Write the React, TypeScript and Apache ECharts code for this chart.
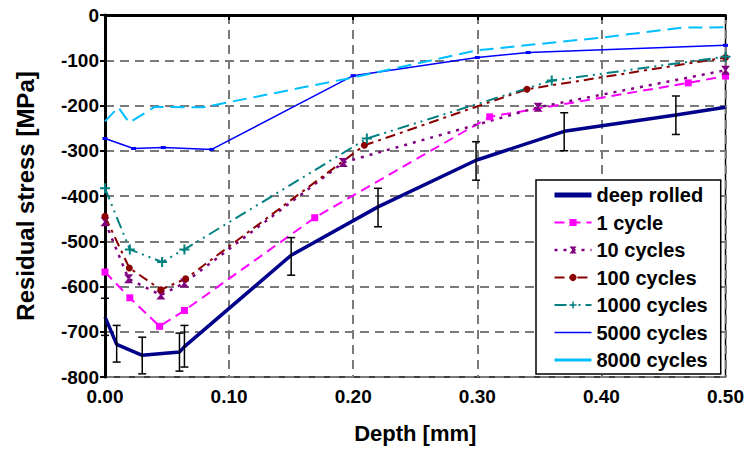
import React, { useEffect, useRef } from "react";
import * as echarts from "echarts";

const xTicks = [0, 0.1, 0.2, 0.3, 0.4, 0.5];
const seriesNames = ["deep rolled", "1 cycle", "10 cycles", "100 cycles", "1000 cycles", "5000 cycles", "8000 cycles"];

// deep rolled: [depth, stress]
const deepRolled: number[][] = [
  [0, -667], [0.0094, -728], [0.030, -752], [0.060, -745], [0.064, -733],
  [0.150, -531], [0.220, -424], [0.299, -321], [0.370, -257], [0.460, -221], [0.500, -204],
];
// error bars for deep rolled: [depth, low, high]
const deepRolledErr: number[][] = [
  [0, -708, -626], [0.0094, -767, -686], [0.030, -793, -712], [0.060, -787, -703], [0.064, -778, -686],
  [0.150, -575, -492], [0.220, -468, -383], [0.299, -365, -280], [0.370, -300, -216], [0.460, -264, -179],
];
const cycle1: number[][] = [
  [0, -568], [0.020, -625], [0.044, -688], [0.064, -653], [0.169, -448], [0.310, -225], [0.470, -150], [0.500, -135],
];
const cycle10: number[][] = [
  [0, -457], [0.019, -583], [0.045, -619], [0.064, -592], [0.192, -326], [0.349, -204], [0.500, -122],
];
const cycle100: number[][] = [
  [0, -445], [0.0196, -559], [0.045, -607], [0.065, -583], [0.209, -288], [0.340, -164], [0.500, -94],
];
const cycle1000: number[][] = [
  [0, -383], [0.020, -518], [0.046, -546], [0.064, -518], [0.211, -273], [0.360, -145], [0.500, -92],
];
const cycle5000: number[][] = [
  [0, -273], [0.023, -295], [0.047, -293], [0.086, -297], [0.200, -134], [0.300, -94], [0.341, -83], [0.500, -67],
];
const cycle8000: number[][] = [
  [0, -235], [0.0107, -204], [0.0196, -238], [0.040, -203], [0.079, -204], [0.200, -138], [0.300, -78],
  [0.400, -50], [0.465, -28], [0.500, -27],
];

const FONT = "'Liberation Sans', Arial, sans-serif";
const hourglass = "path://M0,0 L10,0 L6,5 L10,10 L0,10 L4,5 Z";
const plus = "path://M4,0 L6,0 L6,4 L10,4 L10,6 L6,6 L6,10 L4,10 L4,6 L0,6 L0,4 L4,4 Z";

export default function App() {
  const ref = useRef<HTMLDivElement>(null);
  useEffect(() => {
    document.body.style.margin = "0";
    const chart = echarts.init(ref.current!, null, { renderer: "svg" });
    const legendData = seriesNames.map((n) => {
      if (n === "deep rolled") return { name: n, itemStyle: { opacity: 0 }, lineStyle: { width: 5, type: "solid" } };
      if (n === "8000 cycles") return { name: n, itemStyle: { opacity: 0 }, lineStyle: { width: 3, type: "solid" } };
      if (n === "5000 cycles") return { name: n, itemStyle: { opacity: 0 }, lineStyle: { width: 1.5 } };
      return { name: n };
    });
    const option: any = {
      animation: false,
      backgroundColor: "#ffffff",
      grid: { left: 105, right: 20, top: 15, bottom: 73, show: true, borderColor: "#000", borderWidth: 1.5 },
      legend: {
        orient: "vertical",
        left: 536,
        top: 180,
        data: legendData,
        backgroundColor: "#fff",
        borderColor: "#000",
        borderWidth: 1.5,
        borderRadius: 0,
        padding: [5, 13, 4, 16],
        itemGap: 7.5,
        itemWidth: 37,
        itemHeight: 9,
        lineStyle: { width: "inherit" },
        textStyle: { fontFamily: FONT, fontWeight: "bold", fontSize: 20, color: "#000", padding: [0, 0, 0, 0] },
      },
      xAxis: {
        type: "value",
        min: 0,
        max: 0.5,
        interval: 0.1,
        name: "Depth [mm]",
        nameLocation: "middle",
        nameGap: 45,
        nameTextStyle: { fontFamily: FONT, fontWeight: "bold", fontSize: 22, color: "#000" },
        axisLine: { show: true, lineStyle: { color: "#000", width: 3 } },
        axisTick: { show: true, length: 5, lineStyle: { color: "#000", width: 2 } },
        axisLabel: {
          fontFamily: FONT, fontWeight: "bold", fontSize: 19, color: "#000", margin: 10,
          formatter: (v: number) => v.toFixed(2),
        },
        splitLine: { show: true, lineStyle: { color: "#7a7a7a", width: 2, type: [9, 6] } },
        data: xTicks,
      },
      yAxis: {
        type: "value",
        min: -800,
        max: 0,
        interval: 100,
        name: "Residual stress [MPa]",
        nameLocation: "middle",
        nameGap: 68,
        nameTextStyle: { fontFamily: FONT, fontWeight: "bold", fontSize: 24, color: "#000" },
        axisLine: { show: true, onZero: false, lineStyle: { color: "#000", width: 3 } },
        axisTick: { show: true, length: 5, lineStyle: { color: "#000", width: 2 } },
        axisLabel: { fontFamily: FONT, fontWeight: "bold", fontSize: 19, color: "#000", margin: 6 },
        splitLine: { show: true, lineStyle: { color: "#7a7a7a", width: 2, type: [9, 6] } },
      },
      series: [
        {
          name: "deep rolled", type: "line", data: deepRolled, symbol: "none", z: 5,
          lineStyle: { color: "#00008B", width: 3.5 }, itemStyle: { color: "#00008B" },
        },
        {
          name: "deep rolled err", type: "custom", data: deepRolledErr, z: 6,
          renderItem: (params: any, api: any) => {
            const x = api.value(0);
            const lo = api.coord([x, api.value(1)]);
            const hi = api.coord([x, api.value(2)]);
            const w = 4;
            const style = { stroke: "#000", lineWidth: 1.5 };
            return {
              type: "group",
              children: [
                { type: "line", shape: { x1: lo[0], y1: lo[1], x2: hi[0], y2: hi[1] }, style },
                { type: "line", shape: { x1: lo[0] - w, y1: lo[1], x2: lo[0] + w, y2: lo[1] }, style },
                { type: "line", shape: { x1: hi[0] - w, y1: hi[1], x2: hi[0] + w, y2: hi[1] }, style },
              ],
            };
          },
        },
        {
          name: "1 cycle", type: "line", data: cycle1, symbol: "rect", symbolSize: 7,
          lineStyle: { color: "#FF00FF", width: 2, type: [10, 6] }, itemStyle: { color: "#FF00FF" },
        },
        {
          name: "10 cycles", type: "line", data: cycle10, symbol: hourglass, symbolSize: 9,
          lineStyle: { color: "#800080", width: 2.5, type: [3, 6] }, itemStyle: { color: "#800080" },
        },
        {
          name: "100 cycles", type: "line", data: cycle100, symbol: "circle", symbolSize: 7,
          lineStyle: { color: "#8B0000", width: 2, type: [10, 5, 3, 5] }, itemStyle: { color: "#8B0000" },
        },
        {
          name: "1000 cycles", type: "line", data: cycle1000, symbol: plus, symbolSize: 10,
          lineStyle: { color: "#008080", width: 2, type: [12, 5, 2, 5, 2, 5] }, itemStyle: { color: "#008080" },
        },
        {
          name: "5000 cycles", type: "line", data: cycle5000, symbol: "rect", symbolSize: [5, 3],
          lineStyle: { color: "#0000FF", width: 1.5 }, itemStyle: { color: "#0000FF" },
        },
        {
          name: "8000 cycles", type: "line", data: cycle8000, symbol: "none",
          lineStyle: { color: "#00BFFF", width: 2, type: [14, 7] }, itemStyle: { color: "#00BFFF" },
        },
      ],
    };
    chart.setOption(option);
    return () => chart.dispose();
  }, []);
  return <div ref={ref} style={{ width: 747, height: 450 }} />;
}
